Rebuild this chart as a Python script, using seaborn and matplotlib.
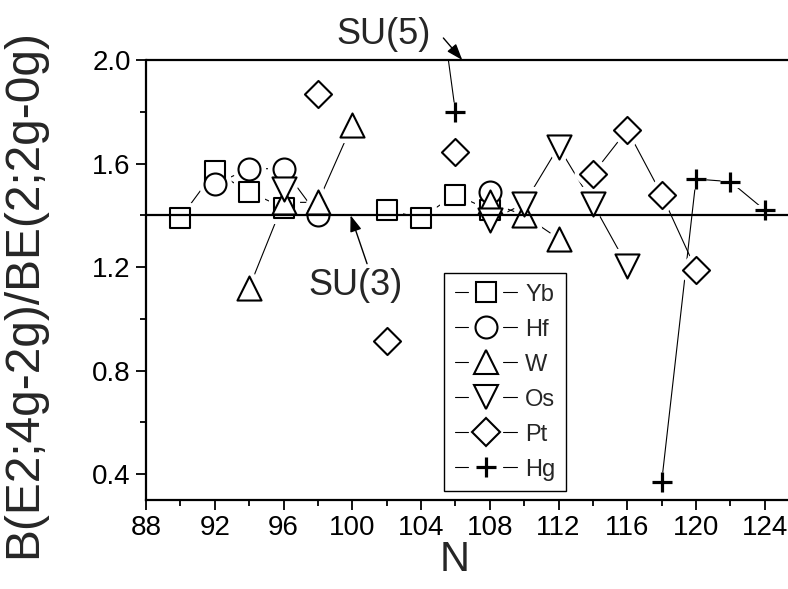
import numpy as np
import pandas as pd
import matplotlib
matplotlib.use("Agg")
import matplotlib.pyplot as plt
import seaborn as sns
from matplotlib.lines import Line2D
from matplotlib.legend_handler import HandlerBase

# ---------------- data ----------------
elements = ["Yb", "Hf", "W", "Os", "Pt", "Hg"]

yb_n = [90, 92, 94, 96, 102, 104, 106, 108]
yb_r = [1.39, 1.57, 1.49, 1.43, 1.42, 1.39, 1.48, 1.42]
yb_seg = [0, 0, 0, 0, 1, 1, 1, 1]

hf_n = [92, 94, 96, 98, 108]
hf_r = [1.52, 1.58, 1.58, 1.40, 1.49]
hf_seg = [0, 0, 0, 0, 1]

w_n = [94, 96, 98, 100, 108, 110, 112]
w_r = [1.12, 1.45, 1.45, 1.75, 1.45, 1.40, 1.31]
w_seg = [0, 0, 0, 0, 1, 1, 1]

os_n = [96, 108, 110, 112, 114, 116]
os_r = [1.50, 1.38, 1.445, 1.665, 1.445, 1.205]
os_seg = [0, 1, 1, 1, 1, 1]

pt_n = [98, 102, 106, 114, 116, 118, 120]
pt_r = [1.87, 0.915, 1.645, 1.56, 1.73, 1.48, 1.19]
pt_seg = [0, 1, 2, 3, 3, 3, 3]

hg_n = [104, 106, 118, 120, 122, 124]
hg_r = [2.78, 1.80, 0.37, 1.54, 1.53, 1.42]
hg_seg = [0, 0, 1, 1, 1, 1]

x_ticks = [88, 92, 96, 100, 104, 108, 112, 116, 120, 124]
y_ticks = [0.4, 0.8, 1.2, 1.6, 2.0]
su3_level = 1.40
su5_level = 2.0
su3_label = "SU(3)"
su5_label = "SU(5)"
x_label = "N"
y_label = "B(E2;4g-2g)/BE(2;2g-0g)"

series = {
    "Yb": (yb_n, yb_r, yb_seg),
    "Hf": (hf_n, hf_r, hf_seg),
    "W": (w_n, w_r, w_seg),
    "Os": (os_n, os_r, os_seg),
    "Pt": (pt_n, pt_r, pt_seg),
    "Hg": (hg_n, hg_r, hg_seg),
}

rows = []
for el, (ns, rs, segs) in series.items():
    for n, r, s in zip(ns, rs, segs):
        rows.append({"element": el, "N": n, "ratio": r, "unit": f"{el}_{s}"})
df = pd.DataFrame(rows)

# ---------------- style ----------------
sns.set_style("ticks")
plt.rcParams["font.family"] = ["Liberation Sans", "DejaVu Sans"]

markers = {"Yb": "s", "Hf": "o", "W": "^", "Os": "v", "Pt": "D", "Hg": "+"}
sizes = {"Yb": 225, "Hf": 250, "W": 300, "Os": 300, "Pt": 190, "Hg": 210}
edge_lw = 1.5
plus_lw = 2.3

fig = plt.figure(figsize=(7.88, 5.89), dpi=100)
ax = fig.add_axes([146 / 788, 1 - 500 / 589, 1 - 146 / 788, 440 / 589])

# connecting lines (broken where the reference shows no segment)
sns.lineplot(data=df, x="N", y="ratio", units="unit", estimator=None,
             color="black", linewidth=0.8, sort=True, legend=False, ax=ax,
             zorder=2)

# white halos to create the gaps between lines and symbols
for el in elements:
    sub = df[df["element"] == el]
    m = markers[el]
    sns.scatterplot(data=sub, x="N", y="ratio", marker=m, s=sizes[el],
                    color="white", edgecolor="white", linewidth=8,
                    legend=False, ax=ax, zorder=3)

# symbols
for i, el in enumerate(elements):
    sub = df[df["element"] == el]
    m = markers[el]
    if m == "+":
        sns.scatterplot(data=sub, x="N", y="ratio", marker=m, s=sizes[el],
                        color="black", linewidth=plus_lw, legend=False, ax=ax,
                        zorder=4 + i)
    else:
        sns.scatterplot(data=sub, x="N", y="ratio", marker=m, s=sizes[el],
                        facecolor="white", edgecolor="black", linewidth=edge_lw,
                        legend=False, ax=ax, zorder=4 + i)

# reference limits
ax.axhline(su5_level, color="black", lw=1.6, zorder=12, clip_on=False)
ax.axhline(su3_level, color="black", lw=1.6, zorder=12)

ax.set_xlim(88, 125.35)
ax.set_ylim(0.3, 2.0)
ax.set_xticks(x_ticks)
ax.set_yticks(y_ticks)
ax.set_xticks(np.arange(90, 125, 4), minor=True)
ax.set_yticks([0.6, 1.0, 1.4, 1.8], minor=True)
ax.set_yticklabels([f"{v:.1f}" for v in y_ticks])
ax.tick_params(axis="both", which="major", direction="out", length=7,
               width=1.3, labelsize=20, pad=4, color="black", labelcolor="black")
ax.tick_params(axis="both", which="minor", direction="out", length=4,
               width=1.3, color="black")
for sp in ["top", "right"]:
    ax.spines[sp].set_visible(False)
for sp in ["left", "bottom"]:
    ax.spines[sp].set_linewidth(1.6)
    ax.spines[sp].set_color("black")

ax.set_xlabel(x_label, fontsize=30)
ax.set_ylabel(y_label, fontsize=34.5)
ax.xaxis.set_label_coords(0.481, -0.09)
ax.yaxis.set_label_coords(-0.155, 0.47)

# annotations
ax.text(101.8, 2.097, su5_label, fontsize=26, ha="center", va="center",
        clip_on=False)
ax.annotate("", xy=(106.4, 2.0), xytext=(105.3, 2.085),
            arrowprops=dict(arrowstyle="-|>,head_length=0.7,head_width=0.25",
                            color="black", lw=1.0, shrinkA=0, shrinkB=0,
                            mutation_scale=14),
            annotation_clip=False)
ax.text(100.2, 1.128, su3_label, fontsize=26, ha="center", va="center")
ax.annotate("", xy=(99.9, 1.40), xytext=(100.86, 1.213),
            arrowprops=dict(arrowstyle="-|>,head_length=0.7,head_width=0.25",
                            color="black", lw=1.0, shrinkA=0, shrinkB=0,
                            mutation_scale=14),
            annotation_clip=False)


# legend with Origin-like gapped line handles
class GapHandler(HandlerBase):
    def __init__(self, marker, ms, gap=12.5):
        super().__init__()
        self.marker = marker
        self.ms = ms
        self.gap = gap

    def create_artists(self, legend, orig_handle, xdescent, ydescent, width,
                       height, fontsize, trans):
        x0 = -xdescent
        x1 = -xdescent + width
        cx = (x0 + x1) / 2
        cy = -ydescent + height / 2
        g = self.gap
        l1 = Line2D([x0, cx - g], [cy, cy], color="black", lw=0.8)
        l2 = Line2D([cx + g, x1], [cy, cy], color="black", lw=0.8)
        if self.marker == "+":
            mk = Line2D([cx], [cy], ls="none", marker="+", ms=self.ms,
                        color="black", mew=plus_lw)
        else:
            mk = Line2D([cx], [cy], ls="none", marker=self.marker, ms=self.ms,
                        mfc="white", mec="black", mew=edge_lw)
        for a in (l1, l2, mk):
            a.set_transform(trans)
        return [l1, l2, mk]


handles = []
hmap = {}
for el in elements:
    h = Line2D([], [], color="black")
    handles.append(h)
    hmap[h] = GapHandler(markers[el], np.sqrt(sizes[el]))

leg = ax.legend(handles, elements, handler_map=hmap,
                loc="lower left", bbox_to_anchor=(0.464, 0.02), fontsize=17,
                frameon=True, fancybox=False, shadow=False, framealpha=1,
                edgecolor="black", borderpad=0.45, labelspacing=0.55,
                handlelength=2.65, handletextpad=0.35, borderaxespad=0)
leg.get_frame().set_linewidth(1.0)
leg.set_zorder(20)

fig.savefig("out.png", dpi=100)
